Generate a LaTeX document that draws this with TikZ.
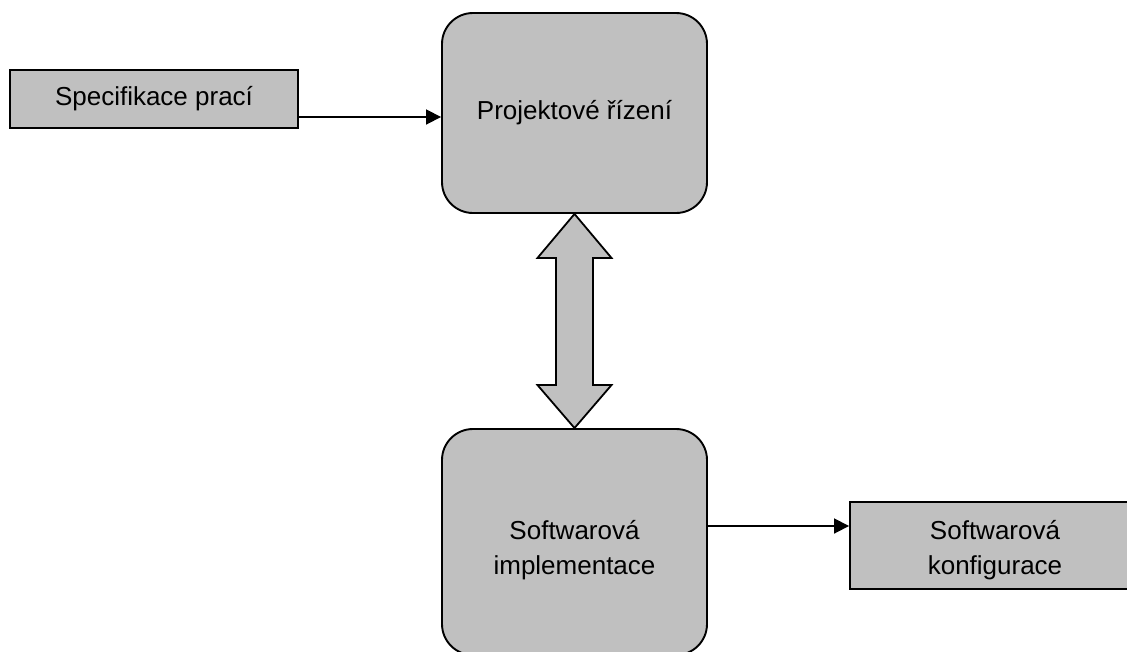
\documentclass[tikz,border=0pt]{standalone}
\usepackage{fontspec}
\setmainfont{Liberation Sans}
\usetikzlibrary{arrows.meta,calc}
\definecolor{boxgray}{HTML}{C0C0C0}
\begin{document}
\begin{tikzpicture}[x=1pt,y=-1pt,
  box/.style={draw=black, fill=boxgray, line width=1.9pt, inner sep=0pt, align=center,
    font=\fontsize{26}{35}\selectfont},
  roundbox/.style={box, rounded corners=31pt, minimum width=265pt},
  flatbox/.style={box},
  conn/.style={draw=black, line width=1.8pt, -{Triangle[length=15pt,width=15pt]}},
  bigarrow/.style={draw=black, fill=boxgray, line width=1.8pt, line join=miter}
]
\clip (0,0) rectangle (1127,651);
\fill[white] (0,0) rectangle (1127,651);

\node[flatbox, minimum width=288pt, minimum height=58pt] (spec) at (154,99) {Specifikace prací};
\node[roundbox, minimum height=200pt] (proj) at (574.5,113) {Projektové řízení};
\node[roundbox, minimum height=226pt] (impl) at (574.5,542) {\rule{0pt}{36pt}Softwarová\\implementace};
\node[flatbox, minimum width=290pt, minimum height=87pt] (konf) at (995,545.5) {\rule{0pt}{28pt}Softwarová\\konfigurace};

\coordinate (s1) at ([yshift=-18pt]spec.east);
\draw[conn] (s1) -- (s1 -| proj.west);
\coordinate (s2) at ([yshift=16pt]impl.east);
\draw[conn] (s2) -- (s2 -| konf.west);

\path[bigarrow] (proj.south)
  -- ($(proj.south)+(37,44)$)
  -- ($(proj.south)+(18.5,44)$)
  -- ($(impl.north)+(18.5,-43)$)
  -- ($(impl.north)+(37,-43)$)
  -- (impl.north)
  -- ($(impl.north)+(-37,-43)$)
  -- ($(impl.north)+(-18.5,-43)$)
  -- ($(proj.south)+(-18.5,44)$)
  -- ($(proj.south)+(-37,44)$)
  -- cycle;
\end{tikzpicture}
\end{document}
